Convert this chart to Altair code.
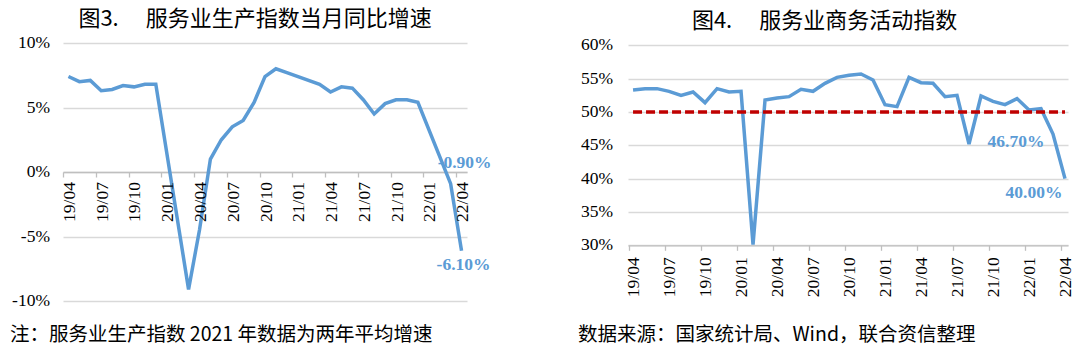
import altair as alt
import pandas as pd

# ---------------- data ----------------
months = ["19/04", "19/05", "19/06", "19/07", "19/08", "19/09", "19/10", "19/11", "19/12",
          "20/01", "20/02", "20/03", "20/04", "20/05", "20/06", "20/07", "20/08", "20/09",
          "20/10", "20/11", "20/12", "21/01", "21/02", "21/03", "21/04", "21/05", "21/06",
          "21/07", "21/08", "21/09", "21/10", "21/11", "21/12", "22/01", "22/02", "22/03",
          "22/04"]

# 服务业生产指数当月同比增速 (%), Jan/Feb combined months are not shown
prod_growth = [7.4, 7.0, 7.1, 6.3, 6.4, 6.7, 6.6, 6.8, 6.8,
               None, None, -9.1, -4.5, 1.0, 2.5, 3.5, 4.0, 5.4,
               7.4, 8.0, 7.7, None, None, 6.8, 6.2, 6.6, 6.5,
               5.6, 4.5, 5.3, 5.6, 5.6, 5.4, None, None, -0.9,
               -6.1]

# 服务业商务活动指数 (%)
biz_index = [53.3, 53.5, 53.5, 53.1, 52.5, 53.0, 51.4, 53.5, 53.0,
             53.1, 30.1, 51.8, 52.1, 52.3, 53.4, 53.1, 54.3, 55.2,
             55.5, 55.7, 54.8, 51.1, 50.8, 55.2, 54.4, 54.3, 52.3,
             52.5, 45.2, 52.4, 51.6, 51.1, 52.0, 50.3, 50.5, 46.7,
             40.0]

threshold = 50.0

left_yticks = [-10, -5, 0, 5, 10]
left_ylabels = ["-10%", "-5%", "0%", "5%", "10%"]
right_yticks = [30, 35, 40, 45, 50, 55, 60]
right_ylabels = ["30%", "35%", "40%", "45%", "50%", "55%", "60%"]
tick_idx = [0, 3, 6, 9, 12, 15, 18, 21, 24, 27, 30, 33, 36]
tick_months = ["19/04", "19/07", "19/10", "20/01", "20/04", "20/07", "20/10",
               "21/01", "21/04", "21/07", "21/10", "22/01", "22/04"]

title_left = "图3.\u3000 服务业生产指数当月同比增速"
title_right = "图4.\u3000 服务业商务活动指数"
note_left = "注：服务业生产指数 2021 年数据为两年平均增速"
note_right = "数据来源：国家统计局、Wind，联合资信整理"

# ---------------- styling ----------------
BLUE = "#5B9BD5"
RED = "#C00000"
GRID = "#d9d9d9"
AXIS = "#bfbfbf"
SERIF = "Liberation Serif"
CJK = "Noto Sans CJK SC"
LABEL_SIZE = 17.5

idx = list(range(len(months)))
left_df = pd.DataFrame({"i": idx, "m": months, "v": prod_growth}).dropna()
right_df = pd.DataFrame({"i": idx, "m": months, "v": biz_index})
thr_df = pd.DataFrame({"i": idx, "v": [threshold] * len(idx)})

LW, LH = 404, 258
RW, RH = 440, 202.3

LX_MIN, LX_MAX = -0.5, len(months) - 0.5
RX_MIN, RX_MAX = -0.42, len(months) - 0.75

lab_style = dict(font=SERIF, fontSize=LABEL_SIZE, color="#000")
ann_style = dict(font=SERIF, fontSize=17.5, fontWeight="bold", color=BLUE,
                 align="center", baseline="middle")

# ---------------- left panel ----------------
lx = alt.X("i:Q",
           scale=alt.Scale(domain=[LX_MIN, LX_MAX], nice=False, zero=False),
           axis=alt.Axis(values=[i - 0.5 for i in tick_idx], title=None, grid=False,
                         labels=False, tickSize=5, tickColor=AXIS, tickWidth=1.3,
                         domainColor=AXIS, domainWidth=1.3, offset=-LH / 2))
ly = alt.Y("v:Q",
           scale=alt.Scale(domain=[-10, 10], nice=False, zero=False),
           axis=alt.Axis(values=left_yticks, title=None, grid=True, gridColor=GRID,
                         gridWidth=1.3, domain=False, ticks=False, labels=False))

left_line = alt.Chart(left_df).mark_line(color=BLUE, strokeWidth=3.5).encode(
    x=lx, y=ly, order="i:Q")

lxl_df = pd.DataFrame({"i": tick_idx, "t": tick_months, "v": [0] * len(tick_idx)})
left_xlab = alt.Chart(lxl_df).mark_text(angle=270, align="right", baseline="middle",
                                        dx=-10, dy=1.5, **lab_style).encode(
    x=lx, y=ly, text="t:N")
lyl_df = pd.DataFrame({"i": [LX_MIN] * len(left_yticks), "v": left_yticks,
                       "t": left_ylabels})
left_ylab = alt.Chart(lyl_df).mark_text(align="right", baseline="middle", dx=-13,
                                        **lab_style).encode(x=lx, y=ly, text="t:N")

lab1 = left_df[left_df.i == 35].assign(t=lambda d: d.v.map(lambda x: f"{x:.2f}%"))
lab2 = left_df[left_df.i == 36].assign(t=lambda d: d.v.map(lambda x: f"{x:.2f}%"))
left_lab1 = alt.Chart(lab1).mark_text(dx=14, dy=-21, **ann_style).encode(
    x=lx, y=ly, text="t:N")
left_lab2 = alt.Chart(lab2).mark_text(dx=2, dy=14, **ann_style).encode(
    x=lx, y=ly, text="t:N")
left_note = alt.Chart(pd.DataFrame({"t": [note_left]})).mark_text(
    align="left", baseline="middle", font=CJK, fontSize=19.5, color="#000").encode(
    x=alt.value(-53), y=alt.value(292), text="t:N")

left = alt.layer(left_line, left_xlab, left_ylab, left_lab1, left_lab2,
                 left_note).properties(
    width=LW, height=LH,
    title=alt.TitleParams(title_left, font=CJK, fontSize=22, fontWeight="normal",
                          color="#000", anchor="middle", dx=-10, offset=3))

# ---------------- right panel ----------------
rx = alt.X("i:Q",
           scale=alt.Scale(domain=[RX_MIN, RX_MAX], nice=False, zero=False),
           axis=alt.Axis(values=[i - 0.35 for i in tick_idx], title=None, grid=False,
                         labels=False, tickSize=5, tickColor=AXIS, tickWidth=1.3,
                         domainColor=AXIS, domainWidth=1.3))
ry = alt.Y("v:Q",
           scale=alt.Scale(domain=[30, 60.35], nice=False, zero=False),
           axis=alt.Axis(values=right_yticks, title=None, grid=True, gridColor=GRID,
                         gridWidth=1.3, domain=False, ticks=False, labels=False))

right_line = alt.Chart(right_df).mark_line(color=BLUE, strokeWidth=3.5).encode(
    x=rx, y=ry, order="i:Q")
thr_line = alt.Chart(thr_df).mark_line(color=RED, strokeWidth=3.5,
                                       strokeDash=[9, 4]).encode(
    x=rx, y=ry, order="i:Q")

rxl_df = pd.DataFrame({"i": tick_idx, "t": tick_months, "v": [30] * len(tick_idx)})
right_xlab = alt.Chart(rxl_df).mark_text(angle=270, align="right", baseline="middle",
                                         dx=-12, dy=1, **lab_style).encode(
    x=rx, y=ry, text="t:N")
ryl_df = pd.DataFrame({"i": [RX_MIN] * len(right_yticks), "v": right_yticks,
                       "t": right_ylabels})
right_ylab = alt.Chart(ryl_df).mark_text(align="right", baseline="middle", dx=-15,
                                         **lab_style).encode(x=rx, y=ry, text="t:N")

rlab1 = right_df[right_df.i == 35].assign(t=lambda d: d.v.map(lambda x: f"{x:.2f}%"))
rlab2 = right_df[right_df.i == 36].assign(t=lambda d: d.v.map(lambda x: f"{x:.2f}%"))
right_lab1 = alt.Chart(rlab1).mark_text(dx=-37, dy=8, **ann_style).encode(
    x=rx, y=ry, text="t:N")
right_lab2 = alt.Chart(rlab2).mark_text(dx=-31, dy=14, **ann_style).encode(
    x=rx, y=ry, text="t:N")
right_note = alt.Chart(pd.DataFrame({"t": [note_right]})).mark_text(
    align="left", baseline="middle", font=CJK, fontSize=19.5, color="#000").encode(
    x=alt.value(-50), y=alt.value(292), text="t:N")

right = alt.layer(right_line, thr_line, right_xlab, right_ylab, right_lab1, right_lab2,
                  right_note).properties(
    width=RW, height=RH,
    title=alt.TitleParams(title_right, font=CJK, fontSize=22, fontWeight="normal",
                          color="#000", anchor="middle", dx=-23.5, offset=3))

chart = alt.hconcat(left, right, spacing=161, bounds="flush").properties(
    padding={"left": 10, "top": 8, "right": 0, "bottom": 6},
    background="white",
).configure_view(stroke=None)

chart.save("out.html", embed_options={"renderer": "svg", "actions": False})
